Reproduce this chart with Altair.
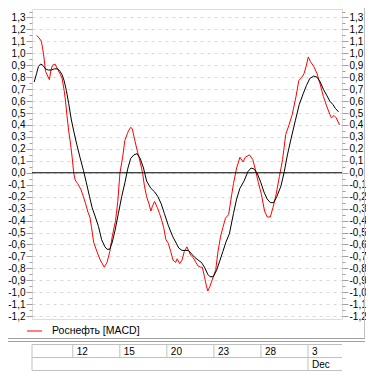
import altair as alt
import pandas as pd

# ---- data (x in trading days from Nov 12 open) ----
MACD_T = [-2.31, -2.15, -2.00, -1.91, -1.84, -1.74, -1.60, -1.49, -1.39, -1.29,
          -1.13, -0.98, -0.82, -0.68, -0.55, -0.47, -0.37, -0.26, -0.14, -0.04,
          0.06, 0.15, 0.31, 0.52, 0.68, 0.82, 0.97, 1.09, 1.19, 1.33,
          1.54, 1.75, 2.01, 2.19, 2.36, 2.52, 2.73, 2.87, 3.01, 3.18,
          3.32, 3.49, 3.55, 3.69, 3.79, 3.96, 4.10, 4.30, 4.45, 4.57,
          4.71, 4.86, 4.98, 5.08, 5.22, 5.39, 5.53, 5.68, 5.80, 5.94,
          6.09, 6.25, 6.39, 6.56, 6.66, 6.82, 6.97, 7.11, 7.28, 7.38,
          7.52, 7.68, 7.85, 7.99, 8.14, 8.26, 8.40, 8.51, 8.61, 8.75,
          8.91, 9.12, 9.26, 9.43, 9.57, 9.74, 9.94, 10.14, 10.25, 10.45,
          10.66, 10.86, 11.00, 11.27, 11.48, 11.64, 11.83, 12.03, 12.23, 12.40,
          12.60, 12.77, 12.97, 13.18, 13.38, 13.58, 13.79, 14.00, 14.24, 14.41,
          14.61, 14.75, 14.90, 15.02, 15.16, 15.37, 15.58, 15.78, 15.98, 16.19,
          16.39, 16.50, 16.66, 16.80, 17.01]
MACD_V = [1.15, 1.13, 1.10, 1.03, 0.97, 0.85, 0.81, 0.78, 0.86, 0.90,
          0.91, 0.87, 0.83, 0.79, 0.69, 0.61, 0.48, 0.35, 0.24, 0.13,
          0.00, -0.06, -0.09, -0.14, -0.20, -0.26, -0.33, -0.37, -0.45, -0.58,
          -0.66, -0.73, -0.79, -0.75, -0.66, -0.53, -0.40, -0.24, 0.00, 0.13,
          0.27, 0.33, 0.35, 0.38, 0.37, 0.27, 0.19, 0.09, 0.00, -0.11,
          -0.20, -0.26, -0.32, -0.28, -0.24, -0.29, -0.34, -0.40, -0.46, -0.56,
          -0.59, -0.66, -0.73, -0.75, -0.72, -0.76, -0.73, -0.66, -0.62, -0.65,
          -0.69, -0.71, -0.75, -0.78, -0.79, -0.79, -0.87, -0.94, -0.99, -0.95,
          -0.89, -0.81, -0.66, -0.53, -0.46, -0.38, -0.35, -0.18, -0.09, 0.04,
          0.13, 0.09, 0.13, 0.15, 0.11, 0.03, -0.08, -0.18, -0.32, -0.37,
          -0.37, -0.29, -0.18, -0.03, 0.11, 0.32, 0.40, 0.49, 0.64, 0.77,
          0.80, 0.83, 0.90, 0.97, 0.93, 0.89, 0.83, 0.74, 0.64, 0.56,
          0.49, 0.46, 0.48, 0.46, 0.40]

SIG_T = [-2.46, -2.31, -2.19, -2.05, -1.91, -1.74, -1.57, -1.37, -1.17, -0.96,
         -0.82, -0.68, -0.55, -0.41, -0.26, -0.10, 0.06, 0.25, 0.46, 0.68,
         0.86, 1.07, 1.23, 1.44, 1.64, 1.84, 2.05, 2.19, 2.36, 2.52,
         2.70, 2.91, 3.12, 3.33, 3.50, 3.69, 3.90, 4.10, 4.30, 4.51,
         4.71, 4.98, 5.22, 5.43, 5.64, 5.84, 6.09, 6.36, 6.56, 6.76,
         6.97, 7.17, 7.38, 7.58, 7.79, 7.99, 8.20, 8.40, 8.61, 8.75,
         8.96, 9.16, 9.37, 9.57, 9.77, 9.99, 10.25, 10.45, 10.66, 10.92,
         11.17, 11.37, 11.58, 11.78, 11.99, 12.19, 12.40, 12.60, 12.81, 13.01,
         13.28, 13.49, 13.69, 13.93, 14.20, 14.44, 14.69, 14.90, 15.12, 15.37,
         15.58, 15.78, 15.98, 16.19, 16.39, 16.60, 16.74, 16.95]
SIG_V = [0.76, 0.83, 0.89, 0.91, 0.90, 0.87, 0.86, 0.86, 0.87, 0.87,
         0.85, 0.82, 0.77, 0.69, 0.58, 0.45, 0.35, 0.24, 0.13, 0.02,
         -0.08, -0.20, -0.29, -0.37, -0.45, -0.56, -0.62, -0.64, -0.64, -0.58,
         -0.48, -0.34, -0.20, -0.08, 0.03, 0.12, 0.15, 0.16, 0.12, 0.04,
         -0.07, -0.13, -0.16, -0.20, -0.26, -0.34, -0.44, -0.53, -0.58, -0.63,
         -0.65, -0.65, -0.65, -0.68, -0.71, -0.73, -0.75, -0.79, -0.85, -0.87,
         -0.87, -0.82, -0.74, -0.66, -0.58, -0.51, -0.34, -0.22, -0.13, -0.07,
         0.01, 0.04, 0.03, -0.01, -0.08, -0.16, -0.22, -0.25, -0.25, -0.20,
         -0.11, 0.01, 0.15, 0.29, 0.44, 0.57, 0.66, 0.73, 0.79, 0.81,
         0.80, 0.76, 0.70, 0.65, 0.60, 0.57, 0.54, 0.51]

GRID_DAYS = [0, 3, 6, 9, 12, 15]
DAY_LABELS = ["12", "15", "20", "23", "28", "3"]
MONTH_DAYS = [15]
MONTH_LABELS = ["Dec"]
LEGEND_LABEL = "Роснефть [MACD]"
ZERO_LEVEL = [0.0]

X_MIN, X_MAX = -2.6, 17.17
Y_MIN, Y_MAX = -1.224, 1.371

# ---- layout ----
W, H = 310, 310
PL, PT, PR, PB = 24, 1, 24, 53
FONT = "Liberation Sans"
GRID_C = "#d9d9d9"
LINE_C = "#c0c0c0"

xs = alt.Scale(domain=[X_MIN, X_MAX], nice=False, zero=False)
ys = alt.Scale(domain=[Y_MIN, Y_MAX], nice=False, zero=False)

macd_df = pd.DataFrame({"t": MACD_T, "v": MACD_V})
sig_df = pd.DataFrame({"t": SIG_T, "v": SIG_V})

tick_vals = [round(-1.2 + 0.05 * k, 2) + 0.0 for k in range(52)]
major = "abs(datum.value*10 - round(datum.value*10)) < 0.001"
label_expr = (major + " ? replace(replace(format(datum.value, '.1f'), '.', ','), '\u2212', '-') : ''")


def yaxis(orient, grid):
    return alt.Axis(
        orient=orient, values=tick_vals, title=None, domain=False,
        labelExpr=label_expr, labelFont=FONT, labelFontSize=10, labelColor="black",
        labelOverlap=False, labelFlush=False, labelPadding=1,
        tickColor="#a0a0a0",
        tickSize={"condition": {"test": major, "value": 6}, "value": 3},
        grid=grid, gridColor=GRID_C, gridDash=[3, 4],
        gridOpacity={"condition": {"test": major, "value": 1}, "value": 0},
    )


xaxis = alt.Axis(values=GRID_DAYS, grid=True, gridColor=GRID_C, gridDash=[3, 4],
                 labels=False, ticks=False, domain=False, title=None)

macd = alt.Chart(macd_df).mark_line(color="#ff0000", strokeWidth=1).encode(
    x=alt.X("t:Q", scale=xs, axis=xaxis),
    y=alt.Y("v:Q", scale=ys, axis=yaxis("left", True)),
)
sig = alt.Chart(sig_df).mark_line(color="#000000", strokeWidth=1).encode(
    x=alt.X("t:Q", scale=xs, axis=None),
    y=alt.Y("v:Q", scale=ys, axis=yaxis("right", False)),
)
zero = alt.Chart(pd.DataFrame({"v": ZERO_LEVEL})).mark_rule(color="black", strokeWidth=1).encode(
    y=alt.Y("v:Q", scale=ys, axis=None),
)

one = pd.DataFrame({"k": [0]})


def hline(y, x0, x1, color):
    return alt.Chart(one).mark_rule(color=color, strokeWidth=1).encode(
        x=alt.value(x0), x2=alt.value(x1), y=alt.value(y))


# separator double line and right frame
sep1 = hline(H + 19.5, -PL, W + PR - 1, "#a0a0a0")
sep2 = hline(H + 22.5, -PL, W + PR - 1, "#a0a0a0")
frame_r = alt.Chart(one).mark_rule(color=LINE_C).encode(
    x=alt.value(W + PR - 1.5), y=alt.value(-PT), y2=alt.value(H + 19.5))

# date table
tb_top, tb_mid, tb_bot = H + 25.5, H + 38.5, H + 51.5
h1 = hline(tb_top, 0, W, LINE_C)
h2 = hline(tb_mid, 0, W, LINE_C)
h3 = hline(tb_bot, 0, W, LINE_C)
div1 = alt.Chart(pd.DataFrame({"t": [X_MIN] + GRID_DAYS})).mark_rule(color=LINE_C).encode(
    x=alt.X("t:Q", scale=xs, axis=None), y=alt.value(tb_top), y2=alt.value(tb_mid))
div2 = alt.Chart(pd.DataFrame({"t": [X_MIN] + MONTH_DAYS})).mark_rule(color=LINE_C).encode(
    x=alt.X("t:Q", scale=xs, axis=None), y=alt.value(tb_mid), y2=alt.value(tb_bot))
days = alt.Chart(pd.DataFrame({"t": GRID_DAYS, "lab": DAY_LABELS})).mark_text(
    align="left", baseline="middle", dx=4, font=FONT, fontSize=10, color="black").encode(
    x=alt.X("t:Q", scale=xs, axis=None), y=alt.value(tb_top + 7), text="lab:N")
months = alt.Chart(pd.DataFrame({"t": MONTH_DAYS, "lab": MONTH_LABELS})).mark_text(
    align="left", baseline="middle", dx=4, font=FONT, fontSize=10, color="black").encode(
    x=alt.X("t:Q", scale=xs, axis=None), y=alt.value(tb_mid + 7), text="lab:N")

# legend
leg_line = hline(H + 12, -5, 10, "#ff0000")
leg_text = alt.Chart(pd.DataFrame({"lab": [LEGEND_LABEL]})).mark_text(
    align="left", baseline="middle", font=FONT, fontSize=10.5, color="black").encode(
    x=alt.value(20), y=alt.value(H + 12), text="lab:N")

chart = alt.layer(
    macd, sig, zero, sep1, sep2, frame_r, h1, h2, h3, div1, div2, days, months,
    leg_line, leg_text,
).resolve_scale(y="independent").resolve_axis(y="independent").properties(
    width=W, height=H,
    autosize=alt.AutoSizeParams(type="none"),
    padding={"left": PL, "top": PT, "right": PR, "bottom": PB},
).configure_view(stroke=LINE_C, strokeWidth=1).configure(background="white")

chart.save("out.html", embed_options={"renderer": "svg", "actions": False})
